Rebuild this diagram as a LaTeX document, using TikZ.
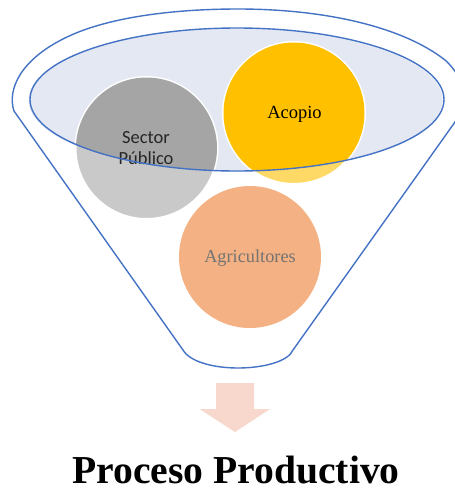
\documentclass[tikz,border=0pt]{standalone}
\usepackage{fontspec}
\setmainfont{Liberation Serif}
\newfontfamily\calibrifont{Carlito}
\definecolor{funnelblue}{HTML}{4472C4}
\definecolor{mouthfill}{HTML}{E4E8F3}
\definecolor{greyin}{HTML}{A5A5A5}
\definecolor{greyout}{HTML}{C9C9C9}
\definecolor{goldin}{HTML}{FFC000}
\definecolor{goldout}{HTML}{FFD966}
\definecolor{peach}{HTML}{F4B183}
\definecolor{arrowpink}{HTML}{F8D7CD}
\tikzset{
  bubble/.style={circle,minimum size=142pt,inner sep=0pt,align=center},
  funnelline/.style={draw=funnelblue,line width=1.4pt}
}
\begin{document}
\begin{tikzpicture}[x=1pt,y=-1pt]
\useasboundingbox (0,0) rectangle (455,491);
\clip (0,0) rectangle (455,491);
% funnel outline
\draw[funnelline,line join=round]
  (14,111) .. controls (7,90) and (20,60) .. (65,38)
  .. controls (105,18) and (170,9) .. (238,9)
  .. controls (320,9) and (400,25) .. (445,60)
  .. controls (458,72) and (464,85) .. (464,97)
  .. controls (464,105) and (462,112) .. (455,122)
  -- (293,350)
  .. controls (288,362) and (262,368) .. (238,368)
  .. controls (214,368) and (190,362) .. (183,350) -- cycle;
% mouth
\fill[mouthfill] (235.5,100) ellipse [x radius=207,y radius=71.5];
% circles, light parts
\node[bubble,fill=greyout,draw=white,line width=2pt] (sector) at (146.5,148) {};
\node[bubble,fill=goldout,draw=white,line width=2pt] (acopio) at (294,113) {};
\node[bubble,fill=peach] (agri) at (250,257) {};
% circles, parts seen through the mouth
\begin{scope}
  \clip (237,99.5) ellipse [x radius=207,y radius=71.5];
  \fill[greyin] (sector.center) circle [radius=70.5];
  \fill[goldin] (acopio.center) circle [radius=70.5];
\end{scope}
\node[font=\calibrifont\fontsize{18.5}{21}\selectfont,align=center,text=black!85] (sectorlabel) at (146,148.5) {Sector\\Público};
\node[font=\fontsize{18.5}{20}\selectfont,text=black] (acopiolabel) at (294.5,114.5) {Acopio};
\node[font=\fontsize{18.3}{20}\selectfont,text=black!55] (agrilabel) at (250,258.5) {Agricultores};
\draw[funnelline] (237,99.5) ellipse [x radius=207,y radius=71.5];
% arrow
\fill[arrowpink] (216,383) -- (254,383) -- (254,409) -- (270,409) -- (235,432) -- (199.5,409) -- (216,409) -- cycle;
\node[font=\bfseries\fontsize{39.6}{44}\selectfont,anchor=base] (title) at (236,483) {Proceso Productivo};
\end{tikzpicture}
\end{document}
